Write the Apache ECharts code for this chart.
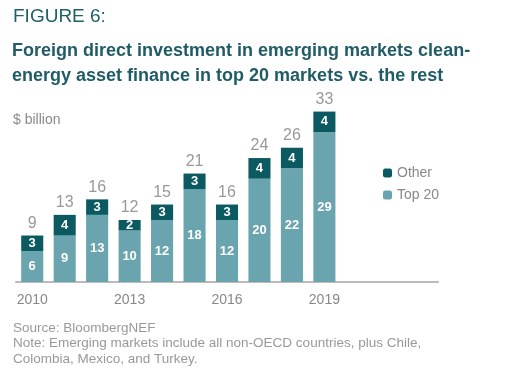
<!DOCTYPE html>
<html><head><meta charset="utf-8">
<script src="https://cdn.jsdelivr.net/npm/echarts@6/dist/echarts.min.js"></script>
<style>html,body{margin:0;padding:0;background:#fff}#c{width:526px;height:391px}</style>
</head><body><div id="c"></div>
<script>
var years = ['2010','2011','2012','2013','2014','2015','2016','2017','2018','2019','2020','2021','2022'];
var shownYears = ['2010','2013','2016','2019'];
var top20 = [6, 9, 13, 10, 12, 18, 12, 20, 22, 29];
var other = [3, 4, 3, 2, 3, 3, 3, 4, 4, 4];
var totals = [9, 13, 16, 12, 15, 21, 16, 24, 26, 33];
var darkC = '#0c5a61', lightC = '#6aa4ae';
var font = '"Liberation Sans", Arial, sans-serif';
var chart = echarts.init(document.getElementById('c'), null, {renderer:'canvas'});
chart.setOption({
  animation: false,
  textStyle: {fontFamily: font},
  title: [
    {text: 'FIGURE 6:', left: 13, top: 7, padding: 0, textStyle: {fontSize: 19, fontWeight: 'normal', color: '#1f5f68', fontFamily: font}},
    {text: 'Foreign direct investment in emerging markets clean-\nenergy asset finance in top 20 markets vs. the rest', left: 12, top: 39, padding: 0,
     textStyle: {fontSize: 18, fontWeight: 'bold', color: '#1f5c65', lineHeight: 25, fontFamily: font}},
    {text: '$ billion', left: 13, top: 113, padding: 0, textStyle: {fontSize: 14, fontWeight: 'normal', color: '#8a8a8a', fontFamily: font}},
    {text: 'Source: BloombergNEF\nNote: Emerging markets include all non-OECD countries, plus Chile,\nColombia, Mexico, and Turkey.', left: 13, top: 320, padding: 0,
     textStyle: {fontSize: 13.5, fontWeight: 'normal', color: '#999', lineHeight: 15.7, fontFamily: font}}
  ],
  legend: {
    orient: 'vertical', left: 383, top: 166, padding: 0, itemWidth: 9, itemHeight: 9, itemGap: 8,
    data: ['Other', 'Top 20'],
    textStyle: {color: '#888', fontSize: 14, fontFamily: font}
  },
  grid: {left: 16, right: 88, top: 78, bottom: 109},
  xAxis: {
    type: 'category', data: years,
    axisLine: {lineStyle: {color: '#bbb', width: 2}},
    axisTick: {show: false},
    axisLabel: {interval: function(i, v){return shownYears.indexOf(v) >= 0;}, color: '#888', fontSize: 14, margin: 11, fontFamily: font}
  },
  yAxis: {type: 'value', min: 0, max: 39.5, show: false, splitLine: {show: false}},
  series: [
    {name: 'Top 20', type: 'bar', stack: 's', data: top20, barWidth: '68%',
     itemStyle: {color: lightC},
     label: {show: true, position: 'inside', color: '#fff', fontWeight: 'bold', fontSize: 13, fontFamily: font}},
    {name: 'Other', type: 'bar', stack: 's', data: other,
     itemStyle: {color: darkC},
     label: {show: true, position: 'inside', color: '#fff', fontWeight: 'bold', fontSize: 13, fontFamily: font}},
    {name: 'Total', type: 'bar', stack: 's', data: totals.map(function(){return 0;}),
     itemStyle: {color: 'transparent'},
     label: {show: true, position: 'top', distance: 4, color: '#999', fontSize: 16, fontFamily: font,
       formatter: function(p){return totals[p.dataIndex];}}}
  ]
});
</script></body></html>
